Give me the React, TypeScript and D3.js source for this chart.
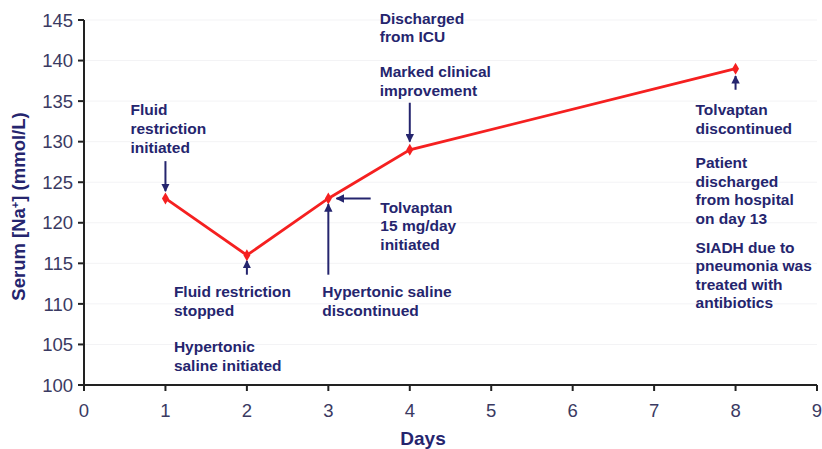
import React from "react";
import * as d3 from "d3";

const days = [1, 2, 3, 4, 8];
const sodium = [123, 116, 123, 129, 139];
const xTicks = [0, 1, 2, 3, 4, 5, 6, 7, 8, 9];
const yTicks = [100, 105, 110, 115, 120, 125, 130, 135, 140, 145];

type Note = { day: number; value: number; dx: number; lines: string[] };
// text blocks placed relative to a day / sodium position
const notes: Note[] = [
  { day: 1, value: 133.9, dx: -35, lines: ["Fluid", "restriction", "initiated"] },
  { day: 2, value: 111.5, dx: -73, lines: ["Fluid restriction", "stopped"] },
  { day: 2, value: 104.7, dx: -73, lines: ["Hypertonic", "saline initiated"] },
  { day: 3, value: 111.5, dx: -6, lines: ["Hypertonic saline", "discontinued"] },
  { day: 3, value: 121.9, dx: 52, lines: ["Tolvaptan", "15 mg/day", "initiated"] },
  { day: 4, value: 145.2, dx: -30, lines: ["Discharged", "from ICU"] },
  { day: 4, value: 138.6, dx: -30, lines: ["Marked clinical", "improvement"] },
  { day: 8, value: 133.9, dx: -40, lines: ["Tolvaptan", "discontinued"] },
  { day: 8, value: 127.4, dx: -40, lines: ["Patient", "discharged", "from hospital", "on day 13"] },
  { day: 8, value: 117.0, dx: -40, lines: ["SIADH due to", "pneumonia was", "treated with", "antibiotics"] },
];

type Arrow = { x1: number; y1: number; x2: number; y2: number };
// arrows in data units (day, sodium); head at the second point
const arrows: Arrow[] = [
  { x1: 1, y1: 127.6, x2: 1, y2: 123.9 },
  { x1: 2, y1: 113.6, x2: 2, y2: 115.3 },
  { x1: 3, y1: 113.6, x2: 3, y2: 122.3 },
  { x1: 3.52, y1: 123, x2: 3.1, y2: 123 },
  { x1: 4, y1: 134.8, x2: 4, y2: 130.0 },
  { x1: 8, y1: 136.4, x2: 8, y2: 138.1 },
];

const W = 822;
const H = 449;
const M = { left: 84, right: 5, top: 20, bottom: 64 };
const NAVY = "#25256e";
const FONT = "Arial, 'Liberation Sans', sans-serif";

export default function App() {
  const x = d3.scaleLinear().domain([0, 9]).range([M.left, W - M.right]);
  const y = d3.scaleLinear().domain([100, 145]).range([H - M.bottom, M.top]);

  const line = d3
    .line<number>()
    .x((_, i) => x(days[i]))
    .y((d) => y(d));

  const diamond = d3.symbol(d3.symbolDiamond, 42)();

  return (
    <svg width={W} height={H} style={{ position: "absolute", left: 0, top: 0, background: "#fff" }}>
      <defs>
        <marker id="head" viewBox="0 0 10 10" refX="9" refY="5" markerWidth="4.2" markerHeight="4.2" orient="auto">
          <path d="M0,0 L10,5 L0,10 z" fill={NAVY} />
        </marker>
      </defs>

      {yTicks.slice(1).map((t) => (
        <line key={"g" + t} x1={x(0)} x2={x(9)} y1={y(t)} y2={y(t)} stroke="#f3f3f5" strokeWidth={1} />
      ))}

      {/* axes */}
      <line x1={x(0)} x2={x(0)} y1={y(145)} y2={y(100)} stroke="#222" strokeWidth={2} />
      <line x1={x(0)} x2={x(9)} y1={y(100)} y2={y(100)} stroke="#222" strokeWidth={2} />
      {yTicks.map((t) => (
        <g key={"y" + t}>
          <line x1={x(0) - 6} x2={x(0)} y1={y(t)} y2={y(t)} stroke="#222" strokeWidth={2} />
          <text x={x(0) - 11} y={y(t)} dy="0.36em" textAnchor="end" fontFamily={FONT} fontSize={18.5} fill="#3a3a62">
            {t}
          </text>
        </g>
      ))}
      {xTicks.map((t) => (
        <g key={"x" + t}>
          <line x1={x(t)} x2={x(t)} y1={y(100)} y2={y(100) + 6} stroke="#222" strokeWidth={2} />
          <text x={x(t)} y={y(100) + 32} textAnchor="middle" fontFamily={FONT} fontSize={18.5} fill="#3a3a62">
            {t}
          </text>
        </g>
      ))}
      <text
        transform={`translate(25, ${(y(145) + y(100)) / 2 + 4}) rotate(-90)`}
        textAnchor="middle"
        fontFamily={FONT}
        fontWeight="bold"
        fontSize={18.5}
        fill={NAVY}
      >
        Serum [Na<tspan baselineShift="super" fontSize={11}>+</tspan>] (mmol/L)
      </text>
      <text x={423} y={445} textAnchor="middle" fontFamily={FONT} fontWeight="bold" fontSize={19} fill={NAVY}>
        Days
      </text>

      {/* series */}
      <path d={line(sodium) ?? ""} fill="none" stroke="#f52020" strokeWidth={2.8} />
      {sodium.map((v, i) => (
        <path key={"p" + i} d={diamond} transform={`translate(${x(days[i])},${y(v)})`} fill="#f52020" />
      ))}

      {/* annotations */}
      {arrows.map((a, i) => (
        <line
          key={"a" + i}
          x1={x(a.x1)}
          y1={y(a.y1)}
          x2={x(a.x2)}
          y2={y(a.y2)}
          stroke={NAVY}
          strokeWidth={2}
          markerEnd="url(#head)"
        />
      ))}
      {notes.map((n, i) => (
        <text
          key={"n" + i}
          x={x(n.day) + n.dx}
          y={y(n.value)}
          fontFamily={FONT}
          fontWeight="bold"
          fontSize={15.5}
          fill={NAVY}
        >
          {n.lines.map((l, j) => (
            <tspan key={j} x={x(n.day) + n.dx} dy={j === 0 ? "0.35em" : 18.6}>
              {l}
            </tspan>
          ))}
        </text>
      ))}
    </svg>
  );
}
